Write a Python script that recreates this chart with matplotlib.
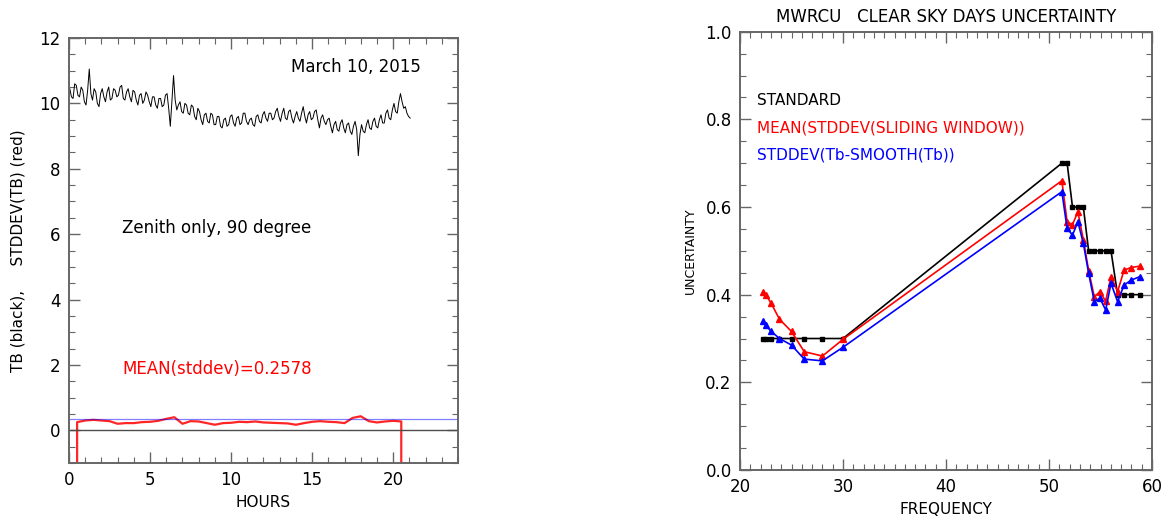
import matplotlib
matplotlib.use('Agg')
from matplotlib import pyplot as plt
from matplotlib.ticker import MultipleLocator, FormatStrFormatter
import numpy as np

# Left panel: zenith brightness temperature (black) and its sliding stddev (red)
tb_hours = np.linspace(0.05, 21.05, 211)
tb = [10.45, 10.20, 10.15, 10.60, 10.55, 10.25, 10.20, 10.50, 10.40, 10.05,
      9.95, 10.40, 11.05, 10.30, 10.10, 10.45, 10.35, 10.00, 9.90, 10.30,
      10.45, 10.20, 10.05, 10.35, 10.50, 10.10, 10.15, 10.45, 10.40, 10.20,
      10.25, 10.50, 10.55, 10.15, 10.10, 10.35, 10.45, 10.20, 10.05, 10.40,
      10.35, 10.10, 9.95, 10.25, 10.30, 10.00, 10.10, 10.35, 10.25, 10.05,
      9.90, 10.20, 10.20, 9.95, 9.85, 10.15, 10.15, 9.90, 9.95, 10.25,
      10.30, 9.85, 9.30, 10.05, 10.85, 10.10, 9.80, 9.95, 10.05, 9.75,
      9.70, 10.00, 9.95, 9.70, 9.65, 9.95, 9.90, 9.60, 9.50, 9.85,
      9.75, 9.50, 9.35, 9.65, 9.70, 9.45, 9.40, 9.70, 9.65, 9.35,
      9.35, 9.60, 9.60, 9.30, 9.25, 9.50, 9.55, 9.30, 9.35, 9.60,
      9.65, 9.40, 9.30, 9.55, 9.60, 9.35, 9.40, 9.70, 9.70, 9.45,
      9.35, 9.50, 9.55, 9.35, 9.30, 9.60, 9.65, 9.45, 9.40, 9.65,
      9.75, 9.55, 9.45, 9.70, 9.70, 9.50, 9.55, 9.75, 9.85, 9.60,
      9.45, 9.70, 9.85, 9.55, 9.50, 9.75, 9.80, 9.55, 9.40, 9.60,
      9.75, 9.55, 9.45, 9.70, 9.90, 9.60, 9.40, 9.65, 9.75, 9.50,
      9.55, 9.75, 9.80, 9.50, 9.25, 9.55, 9.65, 9.45, 9.35, 9.50,
      9.55, 9.30, 9.10, 9.35, 9.45, 9.20, 9.15, 9.40, 9.50, 9.25,
      9.10, 9.35, 9.40, 9.15, 9.05, 9.30, 9.45, 9.20, 8.40, 9.05,
      9.35, 9.15, 9.10, 9.35, 9.50, 9.25, 9.20, 9.45, 9.55, 9.30,
      9.25, 9.50, 9.65, 9.40, 9.40, 9.70, 9.80, 9.55, 9.50, 9.80,
      10.00, 9.75, 9.70, 10.05, 10.30, 10.05, 9.85, 9.90, 9.70, 9.60,
      9.55]

sd_hours = np.linspace(0.5, 20.5, 41)
stddev = [0.25, 0.30, 0.32, 0.30, 0.28, 0.20, 0.22, 0.22, 0.25, 0.26,
          0.29, 0.35, 0.40, 0.20, 0.28, 0.27, 0.22, 0.17, 0.22, 0.23,
          0.26, 0.25, 0.27, 0.24, 0.23, 0.22, 0.21, 0.17, 0.22, 0.26,
          0.28, 0.26, 0.25, 0.22, 0.38, 0.43, 0.28, 0.24, 0.27, 0.29, 0.27]
fill_value = -999.0
blue_level = 0.35

# Right panel: uncertainty per radiometer channel
freq = [22.234, 22.5, 23.034, 23.834, 25.0, 26.234, 28.0, 30.0,
        51.248, 51.76, 52.28, 52.804, 53.336, 53.848, 54.4, 54.94,
        55.5, 56.02, 56.66, 57.288, 57.964, 58.8]
standard = [0.3, 0.3, 0.3, 0.3, 0.3, 0.3, 0.3, 0.3,
            0.7, 0.7, 0.6, 0.6, 0.6, 0.5, 0.5, 0.5,
            0.5, 0.5, 0.4, 0.4, 0.4, 0.4]
mean_sd = [0.405, 0.400, 0.380, 0.344, 0.316, 0.270, 0.260, 0.298,
           0.660, 0.566, 0.560, 0.589, 0.525, 0.455, 0.395, 0.407,
           0.385, 0.441, 0.407, 0.456, 0.462, 0.465]
sd_smooth = [0.341, 0.330, 0.316, 0.300, 0.285, 0.253, 0.249, 0.280,
             0.635, 0.551, 0.536, 0.566, 0.517, 0.449, 0.384, 0.392,
             0.365, 0.426, 0.384, 0.422, 0.433, 0.441]

AXC = '0.4'

def StyleAxes(ax):
    for s in ax.spines.values():
        s.set_color(AXC)
        s.set_linewidth(1.4)
    ax.tick_params(which='both', direction='in', top=True, right=True,
                   color=AXC, labelsize=12, pad=6)
    ax.tick_params(which='major', length=8, width=1.0)
    ax.tick_params(which='minor', length=4, width=0.8)

fig = plt.figure(figsize=(11.71, 5.16), dpi=100)

# ---- left panel
ax1 = fig.add_axes([69/1171, 1-463/516, (458-69)/1171, (463-38)/516])
StyleAxes(ax1)
ax1.plot(tb_hours, tb, color='black', lw=0.7)
h = np.concatenate([[sd_hours[0]], sd_hours, [sd_hours[-1]]])
s = np.concatenate([[fill_value], stddev, [fill_value]])
ax1.plot(h, s, color='red', lw=1.6, alpha=0.85)
ax1.axhline(blue_level, color='blue', lw=0.9, alpha=0.5)
ax1.axhline(0, color='0.3', lw=1.0)
ax1.set_xlim(0, 24)
ax1.set_ylim(-1, 12)
ax1.xaxis.set_major_locator(MultipleLocator(5))
ax1.xaxis.set_minor_locator(MultipleLocator(1))
ax1.yaxis.set_major_locator(MultipleLocator(2))
ax1.yaxis.set_minor_locator(MultipleLocator(0.5))
ax1.text(21.7, 11.1, 'March 10, 2015', ha='right', va='center', fontsize=12)
ax1.text(3.3, 6.2, 'Zenith only, 90 degree', ha='left', va='center', fontsize=12)
ax1.text(3.3, 1.87, 'MEAN(stddev)=%.4f' % 0.2578, color='red', ha='left',
         va='center', fontsize=12)
ax1.set_xlabel('HOURS', fontsize=11, labelpad=4)
ax1.set_ylabel('TB (black),     STDDEV(TB) (red)', fontsize=11, labelpad=10)

# ---- right panel
ax2 = fig.add_axes([740/1171, 1-470/516, (1152-740)/1171, (470-31.7)/516])
StyleAxes(ax2)
ax2.plot(freq, standard, color='black', lw=1.2, marker='s', ms=3.5)
ax2.plot(freq, mean_sd, color='red', lw=1.2, marker='^', ms=4)
ax2.plot(freq, sd_smooth, color='blue', lw=1.2, marker='^', ms=4)
ax2.set_xlim(20, 60)
ax2.set_ylim(0, 1)
ax2.xaxis.set_major_locator(MultipleLocator(10))
ax2.xaxis.set_minor_locator(MultipleLocator(1))
ax2.yaxis.set_major_locator(MultipleLocator(0.2))
ax2.yaxis.set_minor_locator(MultipleLocator(0.05))
ax2.yaxis.set_major_formatter(FormatStrFormatter('%.1f'))
ax2.text(21.65, 0.844, 'STANDARD', color='black', va='center', fontsize=11)
ax2.text(21.65, 0.781, 'MEAN(STDDEV(SLIDING WINDOW))', color='red', va='center', fontsize=11)
ax2.text(21.65, 0.718, 'STDDEV(Tb-SMOOTH(Tb))', color='blue', va='center', fontsize=11)
ax2.set_title('MWRCU   CLEAR SKY DAYS UNCERTAINTY', fontsize=12, pad=7)
ax2.set_xlabel('FREQUENCY', fontsize=11, labelpad=4)
ax2.set_ylabel('UNCERTAINTY', fontsize=9, labelpad=6)

fig.savefig('out.png', dpi=100)
plt.close()
